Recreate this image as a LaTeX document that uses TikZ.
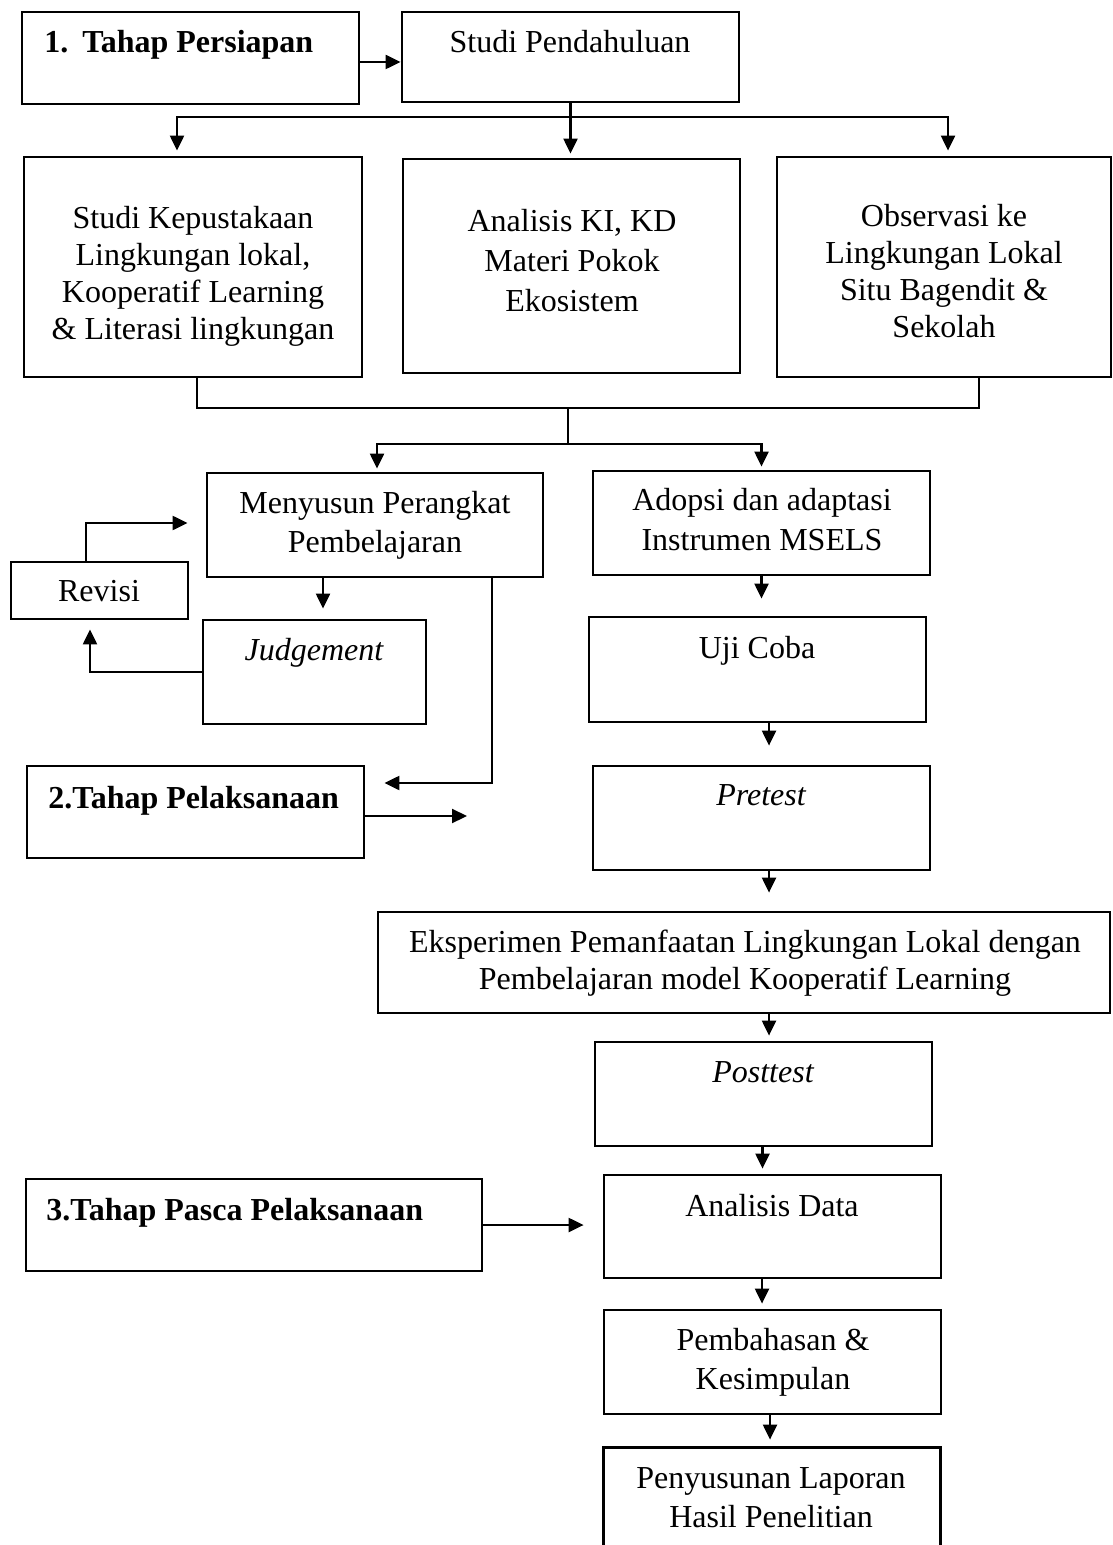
\documentclass[tikz,border=0pt]{standalone}
\usepackage{fontspec}
\setmainfont{Liberation Serif}
\usetikzlibrary{arrows.meta,fit,calc}
\begin{document}
\begin{tikzpicture}[x=0.5pt,y=-0.5pt,
  box/.style={draw, line width=1.4pt, inner sep=0pt},
  openbox/.style={inner sep=0pt},
  txt/.style={inner sep=0pt, align=center, font=\fontsize{16}{#1}\selectfont},
  txt/.default=19,
  boldtxt/.style={inner sep=0pt, align=left, font=\fontsize{16}{19}\selectfont\bfseries},
  itxt/.style={inner sep=0pt, align=center, font=\fontsize{16}{19}\selectfont\itshape},
  line/.style={line width=1.1pt},
  arr/.style={line width=1.1pt, -{Triangle[length=7.5pt,width=7pt]}},
]
\useasboundingbox (0,0) rectangle (1112,1545);

% boxes
\node[box, fit={(22,12)(359,104)}] (b1) {};
\node[box, fit={(402,12)(739,102)}] (sp) {};
\node[box, fit={(24,157)(362,377)}] (sk) {};
\node[box, fit={(403,159)(740,373)}] (ak) {};
\node[box, fit={(777,157)(1111,377)}] (ob) {};
\node[box, fit={(207,473)(543,577)}] (mn) {};
\node[box, fit={(11,562)(188,619)}] (rv) {};
\node[box, fit={(203,620)(426,724)}] (jd) {};
\node[box, fit={(593,471)(930,575)}] (ad) {};
\node[box, fit={(589,617)(926,722)}] (uc) {};
\node[box, fit={(27,766)(364,858)}] (t2) {};
\node[box, fit={(593,766)(930,870)}] (pr) {};
\node[box, fit={(378,912)(1110,1013)}] (ek) {};
\node[box, fit={(595,1042)(932,1146)}] (po) {};
\node[box, fit={(26,1179)(482,1271)}] (t3) {};
\node[box, fit={(604,1175)(941,1278)}] (da) {};
\node[box, fit={(604,1310)(941,1414)}] (pb) {};
\node[openbox, fit={(604,1448)(940,1545)}] (py) {};
\draw[line width=1.4pt] (py.south west) -- (py.north west) -- (py.north east) -- (py.south east);

% texts (anchor=base is the baseline of the last line)
\node[boldtxt, anchor=base west] (b1t) at (44,53) {1.\hspace{7pt}Tahap Persiapan};
\node[txt, anchor=base] (spt) at (570,53) {Studi Pendahuluan};
\node[txt=18.5, anchor=base] (skt) at (193,340) {Studi Kepustakaan\\Lingkungan lokal,\\Kooperatif Learning\\\& Literasi lingkungan};
\node[txt=20, anchor=base] (akt) at (572,312) {Analisis KI, KD\\Materi Pokok\\Ekosistem};
\node[txt=18.5, anchor=base] (obt) at (944,338) {Observasi ke\\Lingkungan Lokal\\Situ Bagendit \&\\Sekolah};
\node[txt=19.5, anchor=base] (mnt) at (375,552) {Menyusun Perangkat\\Pembelajaran};
\node[txt, anchor=base] (rvt) at (99,601) {Revisi};
\node[itxt, anchor=base] (jdt) at (314,660) {Judgement};
\node[txt=20, anchor=base] (adt) at (762,550) {Adopsi dan adaptasi\\Instrumen MSELS};
\node[txt, anchor=base] (uct) at (757,658) {Uji Coba};
\node[boldtxt, anchor=base west] (t2t) at (48,808) {2.Tahap Pelaksanaan};
\node[itxt, anchor=base] (prt) at (761,805) {Pretest};
\node[txt=18.5, anchor=base] (ekt) at (745,989) {Eksperimen Pemanfaatan Lingkungan Lokal dengan\\Pembelajaran model Kooperatif Learning};
\node[itxt, anchor=base] (pot) at (763,1082) {Posttest};
\node[boldtxt, anchor=base west] (t3t) at (46,1220) {3.Tahap Pasca Pelaksanaan};
\node[txt, anchor=base] (dat) at (772,1216) {Analisis Data};
\node[txt=19.5, anchor=base] (pbt) at (773,1389) {Pembahasan \&\\Kesimpulan};
\node[txt=19.5, anchor=base] (pyt) at (771,1527) {Penyusunan Laporan\\Hasil Penelitian};

% connectors
\coordinate (a1) at ([yshift=-2pt]b1.east);
\draw[arr] (a1) -- (a1 -| sp.west);

\coordinate (br1) at (570,117);
\draw[line] (sp.south) -- (sp.south |- br1);
\draw[arr, shorten >=2.5pt] (sp.south |- br1) -| ([xshift=-8pt]sk.north);
\draw[arr, shorten >=2.5pt] (sp.south |- br1) -| ([xshift=2pt]ob.north);
\draw[arr, shorten >=2pt] (sp.south) -- (sp.south |- ak.north);

\coordinate (j1) at (568,408);
\coordinate (j2) at (568,444);
\draw[line] ([xshift=2pt]sk.south) |- (j1) -| ([xshift=17.5pt]ob.south);
\draw[line] (j1) -- (j2);
\draw[arr, shorten >=1.5pt] (j2) -| ([xshift=1pt]mn.north);
\draw[arr, shorten >=1.5pt] (j2) -| (ad.north);

\draw[arr, shorten >=5pt] ([xshift=-26pt]mn.south) -- ([xshift=-26pt]mn.south |- jd.north);
\draw[arr, shorten >=9pt] ([xshift=-6.75pt]rv.north) |- ([yshift=1pt]mn.west);
\draw[arr, shorten >=4.5pt] (jd.west) -| ([xshift=-4.75pt]rv.south);
\draw[arr, shorten >=9.5pt] ([xshift=58.5pt]mn.south) |- ([yshift=14.5pt]t2.east);
\coordinate (t2end) at (467,816);
\draw[arr] ([yshift=-2pt]t2.east) -- ([yshift=-2pt]t2.east -| t2end);

\draw[arr, shorten >=8.5pt] (ad.south) -- (ad.south |- uc.north);
\draw[arr, shorten >=9.5pt] ([xshift=5.75pt]uc.south) -- ([xshift=5.75pt]uc.south |- pr.north);
\draw[arr, shorten >=9pt] ([xshift=3.75pt]pr.south) -- ([xshift=3.75pt]pr.south |- ek.north);
\draw[arr, shorten >=2.5pt] ([xshift=12.5pt]ek.south) -- ([xshift=12.5pt]ek.south |- po.north);
\draw[arr, shorten >=2.5pt] ([xshift=-0.5pt]po.south) -- ([xshift=-0.5pt]po.south |- da.north);
\draw[arr, shorten >=9.5pt] (t3.east) -- (t3.east -| da.west);
\draw[arr, shorten >=2.5pt] ([xshift=-5.25pt]da.south) -- ([xshift=-5.25pt]da.south |- pb.north);
\draw[arr, shorten >=4pt] ([xshift=-1.25pt]pb.south) -- ([xshift=-1.25pt]pb.south |- py.north);
\end{tikzpicture}
\end{document}
